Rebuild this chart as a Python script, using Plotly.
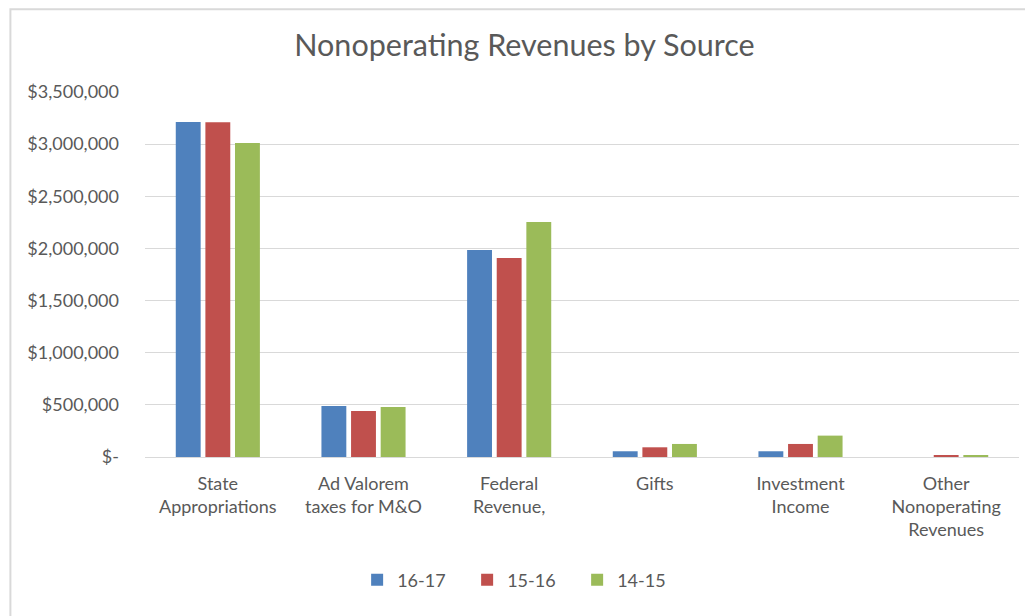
import plotly.graph_objects as go

# Kategorien und Werte
kategorien = [
    "State<br>Appropriations",
    "Ad Valorem<br>taxes for M&O",
    "Federal<br>Revenue,",
    "Gifts",
    "Investment<br>Income",
    "Other<br>Nonoperating<br>Revenues",
]
werte_16_17 = [3212000, 489000, 1984000, 55000, 55000, 0]
werte_15_16 = [3210000, 441000, 1908000, 93000, 125000, 18000]
werte_14_15 = [3010000, 479000, 2253000, 125000, 205000, 15000]

serien = ["16-17", "15-16", "14-15"]
farben = ["#4F81BD", "#C0504D", "#9BBB59"]

y_ticks = [0, 500000, 1000000, 1500000, 2000000, 2500000, 3000000, 3500000]
y_ticktext = ["$-", "$500,000", "$1,000,000", "$1,500,000", "$2,000,000",
              "$2,500,000", "$3,000,000", "$3,500,000"]

schrift = "Lato, 'Open Sans', sans-serif"
grau = "#595959"

fig = go.Figure()

for name, werte, farbe in zip(serien, [werte_16_17, werte_15_16, werte_14_15], farben):
    fig.add_trace(
        go.Bar(
            x=kategorien,
            y=werte,
            name=name,
            marker=dict(color=farbe, line=dict(width=0)),
        )
    )

# Rahmen um das Diagramm
fig.add_shape(
    type="rect",
    xref="paper",
    yref="paper",
    x0=-0.154,
    x1=1.1,
    y0=-0.6,
    y1=1.227,
    line=dict(color="#D9D9D9", width=2),
    layer="below",
)

fig.update_layout(
    title=dict(
        text="Nonoperating Revenues by Source",
        font=dict(family=schrift, size=30.5, color=grau),
        x=0.5,
        xanchor="center",
        y=0.94,
        yanchor="middle",
    ),
    barmode="group",
    bargap=0.39,
    bargroupgap=0.16,
    plot_bgcolor="white",
    paper_bgcolor="white",
    font=dict(family=schrift, color=grau),
    margin=dict(l=137, r=22, t=84, b=167),
    width=1033,
    height=616,
    xaxis=dict(
        tickfont=dict(size=18, color=grau),
        showline=True,
        linecolor="#D9D9D9",
        linewidth=1,
        ticks="",
        ticklabelstandoff=10,
    ),
    yaxis=dict(
        range=[0, 3500000],
        tickvals=y_ticks,
        ticktext=y_ticktext,
        tickfont=dict(size=18, color=grau),
        showgrid=True,
        gridcolor="#D9D9D9",
        gridwidth=1,
        zeroline=False,
        ticks="",
        ticklabelstandoff=25,
    ),
    legend=dict(
        orientation="h",
        x=0.4315,
        xanchor="center",
        y=-0.337,
        yanchor="middle",
        font=dict(size=18, color=grau),
        itemwidth=30,
        entrywidth=65,
        entrywidthmode="pixels",
        traceorder="normal",
    ),
)

fig.write_html("out.html")
